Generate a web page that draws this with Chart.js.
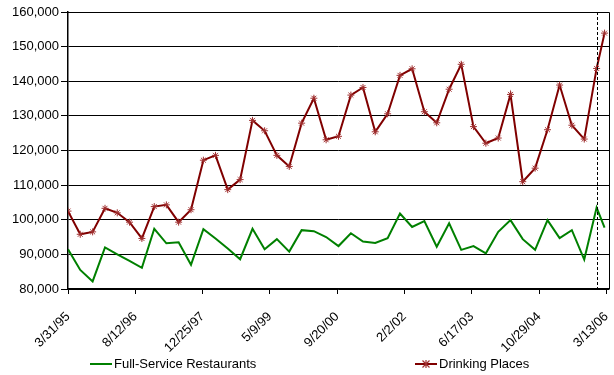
<!DOCTYPE html>
<html>
<head>
<meta charset="utf-8">
<script src="https://cdn.jsdelivr.net/npm/chart.js@4.4.0/dist/chart.umd.min.js"></script>
<style>
  html, body { margin: 0; padding: 0; background: #fff; }
  #wrap { position: relative; width: 614px; height: 375px; }
  #legend { position: absolute; left: 0; top: 356px; width: 614px; height: 16px;
            font: 13px "Liberation Sans", Arial, sans-serif; color: #000; }
  .item { position: absolute; top: 0; height: 16px; line-height: 16px; white-space: nowrap; }
  .item svg { vertical-align: top; margin-right: 2px; }
</style>
</head>
<body>
<div id="wrap">
  <canvas id="chart" width="614" height="375"></canvas>
  <div id="legend"></div>
</div>
<script>
// --- Dados ---
const quarterDates = [
    '3/31/95', '6/30/95', '9/30/95', '12/31/95',
    '3/31/96', '6/30/96', '9/30/96', '12/31/96',
    '3/31/97', '6/30/97', '9/30/97', '12/31/97',
    '3/31/98', '6/30/98', '9/30/98', '12/31/98',
    '3/31/99', '6/30/99', '9/30/99', '12/31/99',
    '3/31/00', '6/30/00', '9/30/00', '12/31/00',
    '3/31/01', '6/30/01', '9/30/01', '12/31/01',
    '3/31/02', '6/30/02', '9/30/02', '12/31/02',
    '3/31/03', '6/30/03', '9/30/03', '12/31/03',
    '3/31/04', '6/30/04', '9/30/04', '12/31/04',
    '3/31/05', '6/30/05', '9/30/05', '12/31/05',
    '2/28/06'
];

const fullService = [
    91500, 85500, 82200, 92000, 90000, 88100, 86100, 97400, 93200, 93500,
    87000, 97300, 94600, 91700, 88600, 97400, 91500, 94400, 90800, 97000,
    96700, 95000, 92400, 96100, 93700, 93300, 94700, 101800, 97900, 99600,
    92200, 99000, 91300, 92400, 90300, 96500, 99900, 94400, 91300, 99900,
    94700, 97000, 88500, 103500, 97700
];

const drinkingPlaces = [
    102500, 95800, 96500, 103300, 102000, 99300, 94600, 103800, 104300, 99300,
    102900, 117200, 118600, 108700, 111600, 128700, 125700, 118600, 115400, 127900,
    135100, 123100, 124100, 136000, 138200, 125400, 130600, 141700, 143600, 131200,
    128000, 137700, 144900, 126900, 122100, 123600, 136200, 111000, 114900, 126000,
    138900, 127300, 123300, 143700, 153900
];

const tickDates = ['3/31/95', '8/12/96', '12/25/97', '5/9/99', '9/20/00', '2/2/02', '6/17/03', '10/29/04', '3/13/06'];
const markerDate = '12/31/05';
const seriesNames = ['Full-Service Restaurants', 'Drinking Places'];

const GREEN = '#008000';
const DARK_RED = '#800000';
const FONT = '"Liberation Sans", Arial, sans-serif';

// Converte 'm/d/yy' em dias desde a primeira data
function parseDate(s) {
    const [m, d, y] = s.split('/').map(Number);
    return Date.UTC(y < 50 ? 2000 + y : 1900 + y, m - 1, d);
}
const baseTime = parseDate(quarterDates[0]);
const toDays = s => Math.round((parseDate(s) - baseTime) / 86400000);

const tickDays = tickDates.map(toDays);
const dayToLabel = {};
tickDays.forEach((d, i) => { dayToLabel[d] = tickDates[i]; });

const toPoints = values => values.map((v, i) => ({ x: toDays(quarterDates[i]), y: v }));

// Moldura da área do gráfico e linha tracejada vertical
const framePlugin = {
    id: 'frame',
    beforeDatasetsDraw(chart) {
        const { ctx, chartArea: a } = chart;
        ctx.save();
        ctx.strokeStyle = '#000';
        ctx.lineWidth = 1;
        ctx.beginPath();
        ctx.moveTo(a.left, a.top + 0.5);
        ctx.lineTo(a.right + 0.5, a.top + 0.5);
        ctx.lineTo(a.right + 0.5, a.bottom);
        ctx.stroke();
        ctx.restore();
    },
    afterDatasetsDraw(chart) {
        const { ctx, chartArea: a, scales } = chart;
        const x = Math.round(scales.x.getPixelForValue(toDays(markerDate))) + 0.5;
        ctx.save();
        ctx.strokeStyle = '#000';
        ctx.lineWidth = 1;
        ctx.setLineDash([3, 2]);
        ctx.beginPath();
        ctx.moveTo(x, a.top);
        ctx.lineTo(x, a.bottom);
        ctx.stroke();
        ctx.restore();
    }
};

const ctx = document.getElementById('chart');
new Chart(ctx, {
    type: 'line',
    data: {
        datasets: [
            {
                label: seriesNames[0],
                data: toPoints(fullService),
                borderColor: GREEN,
                backgroundColor: GREEN,
                borderWidth: 2,
                pointRadius: 0,
                tension: 0
            },
            {
                label: seriesNames[1],
                data: toPoints(drinkingPlaces),
                borderColor: DARK_RED,
                backgroundColor: DARK_RED,
                borderWidth: 2,
                pointStyle: 'star',
                pointRadius: 3.5,
                pointBorderColor: '#a03030',
                pointBorderWidth: 1,
                tension: 0
            }
        ]
    },
    options: {
        responsive: false,
        animation: false,
        devicePixelRatio: 1,
        layout: { padding: { left: 0, right: 5, top: 12, bottom: 0 } },
        plugins: {
            legend: { display: false },
            tooltip: { enabled: false }
        },
        scales: {
            x: {
                type: 'linear',
                min: 0,
                max: 4020,
                afterBuildTicks: axis => { axis.ticks = tickDays.map(v => ({ value: v })); },
                afterFit: axis => { axis.height = 86; axis.paddingLeft = 0; axis.paddingRight = 0; },
                ticks: {
                    autoSkip: false,
                    minRotation: 45,
                    maxRotation: 45,
                    padding: 15,
                    color: '#000',
                    font: { family: FONT, size: 13 },
                    callback: v => dayToLabel[v] || ''
                },
                grid: { drawOnChartArea: false, drawTicks: true, tickLength: 5, color: '#000' },
                border: { color: '#000', width: 1.5 }
            },
            y: {
                min: 80000,
                max: 160000,
                afterFit: axis => { axis.width = 68; },
                ticks: {
                    stepSize: 10000,
                    padding: 2,
                    color: '#000',
                    font: { family: FONT, size: 13 },
                    callback: v => v.toLocaleString('en-US')
                },
                grid: { color: '#000', lineWidth: 1, tickLength: 7 },
                border: { color: '#000', width: 1.5 }
            }
        }
    },
    plugins: [framePlugin]
});

// Legenda em HTML
const legend = document.getElementById('legend');
legend.innerHTML =
    '<div class="item" style="left:90px">' +
        '<svg width="22" height="16"><line x1="0" y1="8" x2="22" y2="8" stroke="' + GREEN + '" stroke-width="2"/></svg>' +
        seriesNames[0] + '</div>' +
    '<div class="item" style="left:415px">' +
        '<svg width="22" height="16"><line x1="0" y1="8" x2="22" y2="8" stroke="' + DARK_RED + '" stroke-width="2"/>' +
        '<path d="M7.5 4.5 L14.5 11.5 M14.5 4.5 L7.5 11.5 M11 4 L11 12" stroke="#a03030" stroke-width="1.2"/></svg>' +
        seriesNames[1] + '</div>';
</script>
</body>
</html>
